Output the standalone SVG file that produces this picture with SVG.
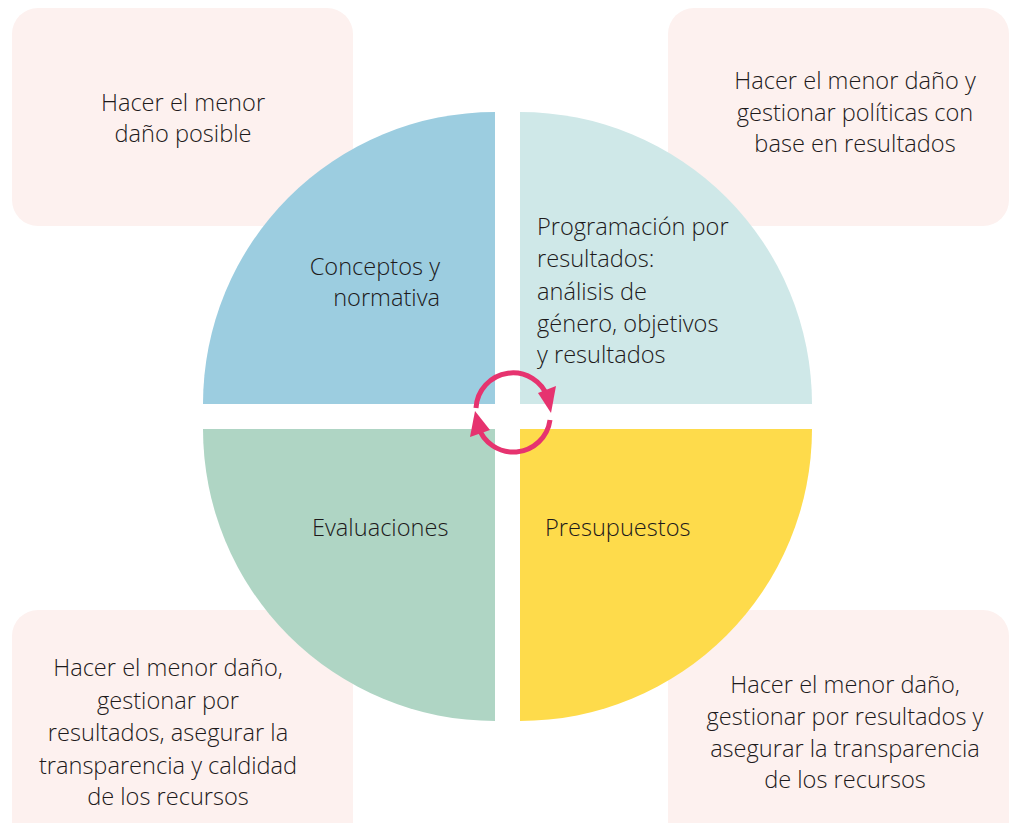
<svg xmlns="http://www.w3.org/2000/svg" width="1009" height="823" viewBox="0 0 1009 823">
<style>
.box{fill:#fdf1ef}
.t{font-family:"Open Sans","Liberation Sans",sans-serif;font-weight:300;font-size:23.6px;fill:#1d1a1b}
.c{text-anchor:middle}
.r{text-anchor:end}
.ring{fill:none;stroke:#e6336f;stroke-width:5}
.head{fill:#e6336f}
</style>
<rect width="1009" height="823" fill="#ffffff"/>
<g id="box-tl"><rect class="box" x="12" y="8" width="341" height="218" rx="26"/>
<text class="t c" x="183"><tspan x="183" y="111">Hacer el menor</tspan><tspan x="183" y="142">daño posible</tspan></text></g>
<g id="box-tr"><rect class="box" x="668" y="8" width="341" height="218" rx="26"/>
<text class="t c"><tspan x="855" y="89">Hacer el menor daño y</tspan><tspan x="855" y="121">gestionar políticas con</tspan><tspan x="855" y="152">base en resultados</tspan></text></g>
<g id="box-bl"><rect class="box" x="12" y="610" width="341" height="240" rx="26"/>
<text class="t c"><tspan x="168" y="676">Hacer el menor daño,</tspan><tspan x="168" y="709">gestionar por</tspan><tspan x="168" y="741">resultados, asegurar la</tspan><tspan x="168" y="774">transparencia y caldidad</tspan><tspan x="168" y="805">de los recursos</tspan></text></g>
<g id="box-br"><rect class="box" x="668" y="610" width="341" height="240" rx="26"/>
<text class="t c"><tspan x="845" y="693">Hacer el menor daño,</tspan><tspan x="845" y="725">gestionar por resultados y</tspan><tspan x="845" y="757">asegurar la transparencia</tspan><tspan x="845" y="788">de los recursos</tspan></text></g>
<g id="q-conceptos"><path d="M495 404 L203 404 A292 292 0 0 1 495 112 Z" fill="#9ccde0"/>
<text class="t r"><tspan x="440" y="275">Conceptos y</tspan><tspan x="440" y="306">normativa</tspan></text></g>
<g id="q-programacion"><path d="M520 404 L520 112 A292 292 0 0 1 812 404 Z" fill="#cfe8e8"/>
<text class="t"><tspan x="537" y="235">Programación por</tspan><tspan x="537" y="267">resultados:</tspan><tspan x="537" y="300">análisis de</tspan><tspan x="537" y="332">género, objetivos</tspan><tspan x="537" y="363">y resultados</tspan></text></g>
<g id="q-evaluaciones"><path d="M495 429 L495 721 A292 292 0 0 1 203 429 Z" fill="#afd5c4"/>
<text class="t" x="312" y="536">Evaluaciones</text></g>
<g id="q-presupuestos"><path d="M520 429 L812 429 A292 292 0 0 1 520 721 Z" fill="#fedb4b"/>
<text class="t" x="545" y="536">Presupuestos</text></g>
<g id="connectors">
<path class="ring" d="M476 408 A37 37 0 0 1 548 398"/>
<polygon class="head" points="551,413 538,393 556,386"/>
<path class="ring" d="M550 420 A37 37 0 0 1 478 426"/>
<polygon class="head" points="475,411 470,437 490,430"/>
</g>
</svg>
